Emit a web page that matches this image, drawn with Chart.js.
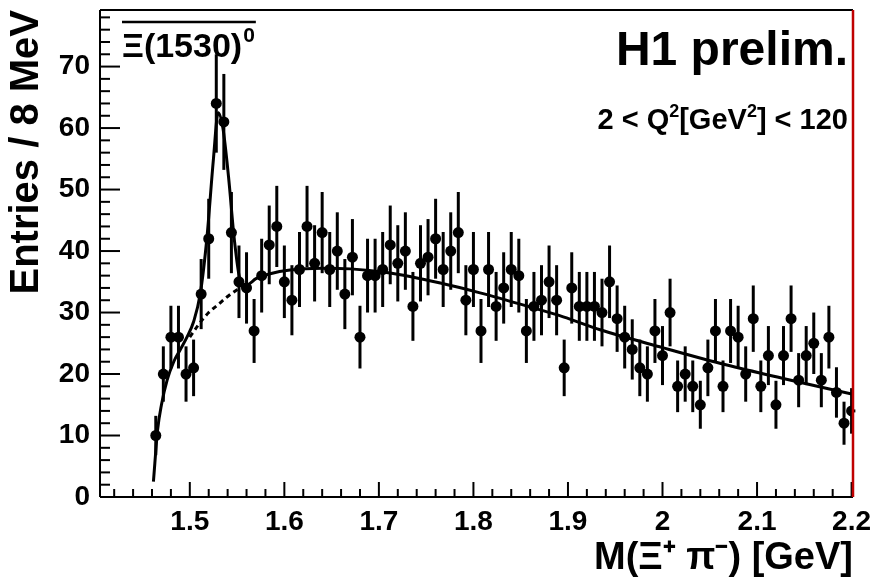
<!DOCTYPE html>
<html>
<head>
<meta charset="utf-8">
<title>Xi(1530) - H1 prelim.</title>
<script src="https://cdn.jsdelivr.net/npm/chart.js@4.4.0/dist/chart.umd.min.js"></script>
<style>
  html, body { margin: 0; padding: 0; background: #fff; }
</style>
</head>
<body>
<canvas id="chart" width="874" height="582"></canvas>
<script>
// bin centres (8 MeV bins), GeV
const massBins = [
  1.464, 1.472, 1.480, 1.488, 1.496, 1.504, 1.512, 1.520, 1.528, 1.536,
  1.544, 1.552, 1.560, 1.568, 1.576, 1.584, 1.592, 1.600, 1.608, 1.616,
  1.624, 1.632, 1.640, 1.648, 1.656, 1.664, 1.672, 1.680, 1.688, 1.696,
  1.704, 1.712, 1.720, 1.728, 1.736, 1.744, 1.752, 1.760, 1.768, 1.776,
  1.784, 1.792, 1.800, 1.808, 1.816, 1.824, 1.832, 1.840, 1.848, 1.856,
  1.864, 1.872, 1.880, 1.888, 1.896, 1.904, 1.912, 1.920, 1.928, 1.936,
  1.944, 1.952, 1.960, 1.968, 1.976, 1.984, 1.992, 2.000, 2.008, 2.016,
  2.024, 2.032, 2.040, 2.048, 2.056, 2.064, 2.072, 2.080, 2.088, 2.096,
  2.104, 2.112, 2.120, 2.128, 2.136, 2.144, 2.152, 2.160, 2.168, 2.176,
  2.184, 2.192, 2.200
];
const binHalfWidth = 0.004;

// entries per bin
const entries = [
  10, 20, 26, 26, 20, 21, 33, 42, 64, 61,
  43, 35, 34, 27, 36, 41, 44, 35, 32, 37,
  44, 38, 43, 37, 40, 33, 39, 26, 36, 36,
  37, 41, 38, 40, 31, 38, 39, 42, 37, 40,
  43, 32, 37, 27, 37, 31, 34, 37, 36, 27,
  31, 32, 35, 32, 21, 34, 31, 31, 31, 30,
  35, 29, 26, 24, 21, 20, 27, 23, 30, 18,
  20, 18, 15, 21, 27, 18, 27, 26, 20, 29,
  18, 23, 15, 23, 29, 19, 23, 25, 19, 26,
  17, 12, 14
];

// statistical errors
const entryErrors = [
  3.2, 4.5, 5.1, 5.1, 4.5, 4.6, 5.7, 6.5, 8.0, 7.8,
  6.6, 5.9, 5.8, 5.2, 6.0, 6.4, 6.6, 5.9, 5.7, 6.1,
  6.6, 6.2, 6.6, 6.1, 6.3, 5.7, 6.2, 5.1, 6.0, 6.0,
  6.1, 6.4, 6.2, 6.3, 5.6, 6.2, 6.2, 6.5, 6.1, 6.3,
  6.6, 5.7, 6.1, 5.2, 6.1, 5.6, 5.8, 6.1, 6.0, 5.2,
  5.6, 5.7, 5.9, 5.7, 4.6, 5.8, 5.6, 5.6, 5.6, 5.5,
  5.9, 5.4, 5.1, 4.9, 4.6, 4.5, 5.2, 4.8, 5.5, 4.2,
  4.5, 4.2, 3.9, 4.6, 5.2, 4.2, 5.2, 5.1, 4.5, 5.4,
  4.2, 4.8, 3.9, 4.8, 5.4, 4.4, 4.8, 5.0, 4.4, 5.1,
  4.1, 3.5, 3.7
];

// full fit (signal + background)
const fitMass = [
  1.4615, 1.466, 1.470, 1.476, 1.483, 1.490, 1.497, 1.504, 1.511, 1.518,
  1.525, 1.530, 1.535, 1.541, 1.547, 1.553, 1.560, 1.570, 1.585, 1.606,
  1.640, 1.670, 1.708, 1.765, 1.807, 1.860, 1.895, 1.934, 2.000, 2.067,
  2.130, 2.2015
];
const fitValues = [
  2.5, 11, 15, 19, 22, 24, 26, 28.5, 33, 42,
  55, 62.5, 60, 52, 42, 35.5, 34.5, 35.5, 36.3, 36.9,
  37.2, 37.1, 36.5, 34.8, 33.2, 30.9, 29.3, 27.2, 24.3, 21.5,
  19.2, 16.7
];

// background only, under the peak (dashed)
const bgMass = [1.500, 1.510, 1.520, 1.530, 1.540, 1.550, 1.560];
const bgValues = [26, 28.2, 30, 31.3, 32.6, 33.7, 34.6];

const xTicks = [1.5, 1.6, 1.7, 1.8, 1.9, 2, 2.1, 2.2];
const yTicks = [0, 10, 20, 30, 40, 50, 60, 70];

const FONT = "'Liberation Sans', Arial, Helvetica, sans-serif";

function toPoints(xs, ys) {
  return xs.map((x, i) => ({ x: x, y: ys[i] }));
}

function line(ctx, x1, y1, x2, y2) {
  ctx.beginPath();
  ctx.moveTo(x1, y1);
  ctx.lineTo(x2, y2);
  ctx.stroke();
}

// error bars behind the markers
const errorBars = {
  id: "errorBars",
  beforeDatasetsDraw(chart) {
    const { ctx, scales: { x, y } } = chart;
    ctx.save();
    ctx.strokeStyle = "#000";
    ctx.lineWidth = 3;
    massBins.forEach((m, i) => {
      const px = x.getPixelForValue(m);
      const py = y.getPixelForValue(entries[i]);
      line(ctx, px, y.getPixelForValue(entries[i] - entryErrors[i]), px, y.getPixelForValue(entries[i] + entryErrors[i]));
      line(ctx, x.getPixelForValue(m - binHalfWidth), py, x.getPixelForValue(m + binHalfWidth), py);
    });
    ctx.restore();
  },
};

// frame, inward ticks and labels inside the pad
const frame = {
  id: "frame",
  afterDraw(chart) {
    const { ctx, chartArea: a, scales: { x, y } } = chart;
    ctx.save();
    ctx.strokeStyle = "#000";
    ctx.lineWidth = 2;
    line(ctx, a.left, a.top, a.right, a.top);
    line(ctx, a.left, a.top, a.left, a.bottom);
    line(ctx, a.left, a.bottom, a.right, a.bottom);

    // y ticks
    for (let k = 0; k < 40; k++) {
      const py = y.getPixelForValue(k * 2);
      const len = k % 5 === 0 ? 20 : 10;
      line(ctx, a.left, py, a.left + len, py);
    }
    // x ticks
    for (let k = 71; k <= 110; k++) {
      const px = x.getPixelForValue(k * 0.02);
      const len = k % 5 === 0 ? 15 : 8;
      line(ctx, px, a.bottom, px, a.bottom - len);
    }

    ctx.strokeStyle = "#c00000";
    ctx.lineWidth = 2.5;
    line(ctx, a.right, a.top, a.right, a.bottom);

    // labels
    ctx.fillStyle = "#000";
    ctx.textBaseline = "alphabetic";

    ctx.textAlign = "left";
    ctx.font = "bold 34px " + FONT;
    const xiX = a.left + 22;
    const xiY = a.top + 47;
    ctx.fillText("\u039E(1530)", xiX, xiY);
    const w1 = ctx.measureText("\u039E(1530)").width;
    ctx.font = "bold 21px " + FONT;
    ctx.fillText("0", xiX + w1 + 1, xiY - 15);
    const w2 = ctx.measureText("0").width;
    ctx.strokeStyle = "#000";
    ctx.lineWidth = 2.5;
    line(ctx, xiX, a.top + 12, xiX + w1 + w2 + 2, a.top + 12);

    ctx.textAlign = "right";
    ctx.font = "bold 48px " + FONT;
    ctx.fillText("H1 prelim.", a.right - 5, a.top + 55);

    // 2 < Q^2[GeV^2] < 120, superscripts drawn smaller
    const parts = [
      ["2 < Q", 0], ["2", 1], ["[GeV", 0], ["2", 1], ["] < 120", 0],
    ];
    const big = "bold 29px " + FONT;
    const small = "bold 18px " + FONT;
    let total = 0;
    parts.forEach(([t, sup]) => {
      ctx.font = sup ? small : big;
      total += ctx.measureText(t).width;
    });
    let cx = a.right - 5 - total;
    const baseY = a.top + 119;
    ctx.textAlign = "left";
    parts.forEach(([t, sup]) => {
      ctx.font = sup ? small : big;
      ctx.fillText(t, cx, sup ? baseY - 12 : baseY);
      cx += ctx.measureText(t).width;
    });
    ctx.restore();
  },
};

new Chart(document.getElementById("chart"), {
  data: {
    datasets: [
      {
        type: "scatter",
        data: toPoints(massBins, entries),
        pointRadius: 5.5,
        pointBackgroundColor: "#000",
        pointBorderWidth: 0,
        order: 0,
      },
      {
        type: "line",
        data: toPoints(fitMass, fitValues),
        borderColor: "#000",
        borderWidth: 3,
        pointRadius: 0,
        fill: false,
        cubicInterpolationMode: "monotone",
        order: 1,
      },
      {
        type: "line",
        data: toPoints(bgMass, bgValues),
        borderColor: "#000",
        borderWidth: 3,
        borderDash: [5, 4],
        pointRadius: 0,
        fill: false,
        cubicInterpolationMode: "monotone",
        order: 2,
      },
    ],
  },
  options: {
    responsive: false,
    animation: false,
    devicePixelRatio: 1,
    layout: { padding: { left: 0, right: 21, top: 10, bottom: 0 } },
    plugins: {
      legend: { display: false },
      tooltip: { enabled: false },
    },
    scales: {
      x: {
        type: "linear",
        min: 1.405,
        max: 2.2015,
        afterBuildTicks: (s) => { s.ticks = xTicks.map((v) => ({ value: v })); },
        afterFit: (s) => { s.height = 85; s.paddingLeft = 0; s.paddingRight = 0; },
        grid: { display: false, drawTicks: false },
        border: { display: false },
        ticks: {
          color: "#000",
          padding: 8,
          maxRotation: 0,
          autoSkip: false,
          font: { family: FONT, size: 28, weight: "bold" },
          callback: (v) => String(v),
        },
        title: {
          display: true,
          text: "M(\u039E\u207A \u03C0\u207B) [GeV]",
          align: "end",
          color: "#000",
          padding: { top: 0, bottom: 1 },
          font: { family: FONT, size: 38, weight: "bold" },
        },
      },
      y: {
        type: "linear",
        min: 0,
        max: 79.2,
        afterBuildTicks: (s) => { s.ticks = yTicks.map((v) => ({ value: v })); },
        afterFit: (s) => { s.width = 100; s.paddingTop = 0; s.paddingBottom = 0; },
        grid: { display: false, drawTicks: false },
        border: { display: false },
        ticks: {
          color: "#000",
          padding: 10,
          font: { family: FONT, size: 28, weight: "bold" },
          callback: (v) => String(v),
        },
        title: {
          display: true,
          text: "Entries / 8 MeV",
          align: "end",
          color: "#000",
          padding: { top: 3, bottom: 0 },
          font: { family: FONT, size: 40, weight: "bold" },
        },
      },
    },
  },
  plugins: [errorBars, frame],
});
</script>
</body>
</html>
